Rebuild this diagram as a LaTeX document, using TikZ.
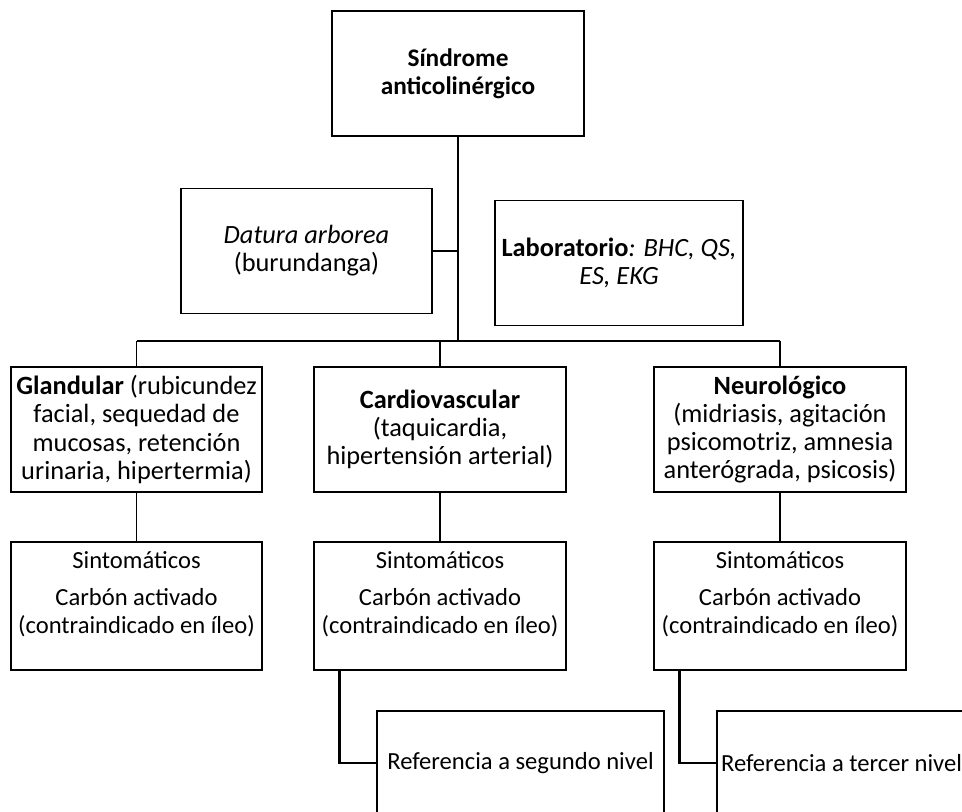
\documentclass[tikz,border=0pt]{standalone}
\usepackage{fontspec}
\setmainfont{Carlito}
\tikzset{box/.style={draw=black,line width=.8pt,align=center,inner sep=0pt,minimum width=5.02cm,minimum height=2.5cm,font=\fontsize{15}{16}\selectfont},
 wire/.style={draw=black,line width=.9pt},
 stem/.style={draw=black,line width=1.4pt},
 every picture/.style={line join=miter}}
\begin{document}
\begin{tikzpicture}[x=0.02cm,y=-0.02cm,font=\fontsize{14}{16}\selectfont]
\useasboundingbox (0,0) rectangle (962,811);
\clip (0,0) rectangle (962,811);
\node[box,minimum width=5.04cm,font=\fontsize{14.4}{16}\selectfont\bfseries] (sindrome) at (458,73.5) {Síndrome\\anticolinérgico};
\node[box] (datura) at (306.5,251) {\textit{Datura arborea}\\(burundanga)};
\node[box,minimum width=4.96cm] (lab) at (619,263) {\textbf{Laboratorio}\textit{: BHC, QS,}\\\textit{ES, EKG}};
\coordinate (bus) at (458,341);
\node[box] (glandular) at (136.5,429.5) {\textbf{Glandular} (rubicundez\\facial, sequedad de\\mucosas, retención\\urinaria, hipertermia)};
\node[box,minimum width=5.04cm] (cardio) at (440,429.5) {\textbf{Cardiovascular}\\(taquicardia,\\hipertensión arterial)};
\node[box,minimum width=5.04cm] (neuro) at (780,429.5) {\textbf{Neurológico}\\(midriasis, agitación\\psicomotriz, amnesia\\anterógrada, psicosis)};
\node[box,minimum height=2.56cm] (sintA) at (136.5,606) {};
\node[box,minimum width=5.04cm,minimum height=2.56cm] (sintB) at (440,606) {};
\node[box,minimum width=5.04cm,minimum height=2.56cm] (sintC) at (780,606) {};
\node[anchor=north,align=center,inner sep=0pt] (txtA) at ([yshift=-.2cm]sintA.north) {Sintomáticos\\[.18cm]Carbón activado\\(contraindicado en íleo)};
\node[anchor=north,align=center,inner sep=0pt] (txtB) at ([yshift=-.2cm]sintB.north) {Sintomáticos\\[.18cm]Carbón activado\\(contraindicado en íleo)};
\node[anchor=north,align=center,inner sep=0pt] (txtC) at ([yshift=-.2cm]sintC.north) {Sintomáticos\\[.18cm]Carbón activado\\(contraindicado en íleo)};
\node[box,minimum width=5.74cm,minimum height=2.08cm,font=\fontsize{14}{16}\selectfont] (refB) at (520.5,763) {Referencia a segundo nivel};
\node[box,minimum width=4.98cm,minimum height=2.08cm,font=\fontsize{14}{16}\selectfont] (refC) at (841.5,763) {Referencia a tercer nivel};
\draw[stem] (sindrome.south) -- (bus);
\draw[wire] (datura.east) -- (datura.east -| bus);
\draw[wire] (glandular.north |- bus) -- (neuro.north |- bus);
\draw[wire] (glandular.north |- bus) -- (glandular.north);
\draw[stem] (cardio.north |- bus) -- (cardio.north);
\draw[wire] (neuro.north |- bus) -- (neuro.north);
\draw[wire] (glandular.south) -- (sintA.north);
\draw[wire] (cardio.south) -- (sintB.north);
\draw[wire] (neuro.south) -- (sintC.north);
\draw[stem] ([xshift=.52cm]sintB.south west) |- (refB.west);
\draw[stem] ([xshift=.52cm]sintC.south west) |- (refC.west);
\end{tikzpicture}
\end{document}
